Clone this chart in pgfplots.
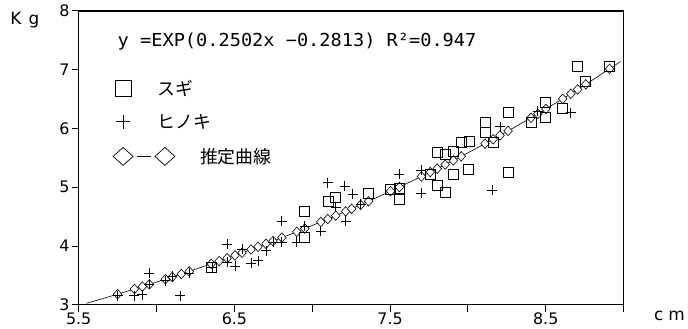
\documentclass[border=0pt]{standalone}
\usepackage{fontspec}
\setmainfont{DejaVu Sans}
\newfontfamily\jp{Noto Sans CJK JP}
\newfontfamily\mono{DejaVu Sans Mono}
\usepackage{graphicx}
\usepackage{pgfplots}
\pgfplotsset{compat=1.18}

\pgfplotstableread{
x y
5.550 3.026
5.750 3.181
5.858 3.269
5.909 3.311
5.954 3.348
6.057 3.435
6.101 3.474
6.159 3.524
6.210 3.570
6.351 3.698
6.402 3.745
6.453 3.793
6.504 3.842
6.549 3.886
6.607 3.942
6.652 3.987
6.703 4.038
6.748 4.084
6.805 4.143
6.901 4.243
6.952 4.298
7.055 4.410
7.100 4.460
7.151 4.517
7.215 4.590
7.253 4.634
7.311 4.702
7.362 4.762
7.503 4.933
7.560 5.004
7.701 5.184
7.758 5.258
7.803 5.318
7.854 5.386
7.906 5.456
7.957 5.526
8.110 5.742
8.162 5.817
8.206 5.882
8.258 5.959
8.405 6.182
8.449 6.250
8.501 6.332
8.609 6.506
8.661 6.591
8.705 6.664
8.757 6.751
8.910 7.015
8.980 7.139
}\curve

\pgfplotstableread{
x y
5.750 3.181
5.858 3.269
5.909 3.311
5.954 3.348
6.057 3.435
6.101 3.474
6.159 3.524
6.210 3.570
6.351 3.698
6.402 3.745
6.453 3.793
6.504 3.842
6.549 3.886
6.607 3.942
6.652 3.987
6.703 4.038
6.748 4.084
6.805 4.143
6.901 4.243
6.952 4.298
7.055 4.410
7.100 4.460
7.151 4.517
7.215 4.590
7.253 4.634
7.311 4.702
7.362 4.762
7.503 4.933
7.560 5.004
7.701 5.184
7.758 5.258
7.803 5.318
7.854 5.386
7.906 5.456
7.957 5.526
8.110 5.742
8.162 5.817
8.206 5.882
8.258 5.959
8.405 6.182
8.449 6.250
8.501 6.332
8.609 6.506
8.661 6.591
8.705 6.664
8.757 6.751
8.910 7.015
}\diamonds

\pgfplotstableread{
x y
6.351 3.644
6.952 4.593
6.952 4.153
7.106 4.763
7.151 4.831
7.360 4.900
7.503 4.966
7.560 4.980
7.560 4.800
7.758 5.220
7.803 5.030
7.854 4.915
7.906 5.220
7.803 5.593
7.854 5.560
7.906 5.610
7.957 5.760
8.008 5.780
8.003 5.310
8.258 5.254
8.110 6.100
8.110 5.930
8.161 5.760
8.258 6.270
8.410 6.100
8.500 6.440
8.500 6.190
8.609 6.340
8.705 7.050
8.757 6.800
8.910 7.050
}\sugi

\pgfplotstableread{
x y
5.750 3.153
5.858 3.153
5.909 3.170
5.954 3.540
5.954 3.356
6.057 3.410
6.101 3.490
6.153 3.153
6.210 3.540
6.357 3.630
6.453 4.030
6.453 3.730
6.504 3.660
6.549 3.950
6.607 3.710
6.652 3.750
6.703 3.920
6.748 4.070
6.805 4.420
6.805 4.070
6.901 4.070
6.952 4.340
7.055 4.250
7.100 5.080
7.208 5.020
7.259 4.880
7.215 4.420
7.151 4.660
7.311 4.710
7.560 5.220
7.701 5.290
7.701 4.900
8.155 4.950
8.206 6.030
8.449 6.290
8.661 6.270
}\hinoki

\begin{document}
\begin{tikzpicture}
\begin{axis}[
  anchor=south west,
  scale only axis, width=547bp, height=295bp,
  xmin=5.5, xmax=9, ymin=3, ymax=8,
  axis line style={line width=1.3bp, black},
  tick align=outside, tick pos=left,
  major tick length=7bp,
  tick style={draw=black, line width=1bp},
  xtick={5.5,6,6.5,7,7.5,8,8.5,9},
  xticklabels={5.5,,6.5,,7.5,,8.5,},
  ytick={3,4,5,6,7,8},
  yticklabels={3,4,5,6,7,8},
  ticklabel style={font=\fontsize{16}{16}\selectfont},
  xticklabel style={inner sep=1bp},
  yticklabel style={inner sep=2bp},
  xlabel={c\hspace{5bp}m},
  ylabel={K\hspace{7bp}g},
  every axis x label/.style={at={(rel axis cs:1,0)}, anchor=base west, xshift=27bp, yshift=-16bp, font=\fontsize{17}{17}\selectfont},
  every axis y label/.style={at={(rel axis cs:0,1)}, anchor=base west, xshift=-72bp, yshift=-14bp, font=\fontsize{17}{17}\selectfont},
  legend style={draw=none, fill=none, at={(rel axis cs:0,1)}, anchor=north west,
    xshift=34bp, yshift=-69bp, inner sep=0pt, row sep=17.5bp,
    font=\jp\fontsize{18}{18}\selectfont,
    nodes={inner sep=0pt},
    /tikz/every odd column/.append style={column sep=24bp}},
  legend cell align=left,
]
\addplot[no marks, black, line width=0.6bp, forget plot] table {\curve};
\addplot[only marks, black, mark=diamond*, mark size=4.8bp,
  mark options={fill=white, draw=black, line width=0.6bp, xscale=1.2}, forget plot] table {\diamonds};
\addplot[only marks, black, mark=square, mark size=5bp,
  mark options={line width=0.8bp}, forget plot] table {\sugi};
\addplot[only marks, black, mark=+, mark size=5bp,
  mark options={line width=0.8bp}, forget plot] table {\hinoki};

\addlegendimage{legend image code/.code={
  \draw[black, line width=0.7bp] (-8bp,-8bp) rectangle (8bp,8bp);}}
\addlegendentry{スギ}
\addlegendimage{legend image code/.code={
  \draw[black, line width=0.7bp] (-7bp,0bp) -- (7bp,0bp) (0bp,-7bp) -- (0bp,7bp);}}
\addlegendentry{ヒノキ}
\addlegendimage{legend image code/.code={
  \draw[black, line width=0.7bp] (-10bp,0bp) -- (0bp,9bp) -- (10bp,0bp) -- (0bp,-9bp) -- cycle;
  \draw[black, line width=0.9bp, overlay] (14bp,0bp) -- (28bp,0bp);
  \draw[black, line width=0.7bp, overlay] (32bp,0bp) -- (42bp,9bp) -- (52bp,0bp) -- (42bp,-9bp) -- cycle;}}
\addlegendentry{\hspace*{43bp}推定曲線}

\node[anchor=base west, inner sep=0pt] at (rel axis cs:0,1) [xshift=39bp, yshift=-36bp]
  {\resizebox{360bp}{\height}{\mono\fontsize{18}{18}\selectfont y =EXP(0.2502x −0.2813)  R²=0.947}};
\end{axis}
\path (-79bp,-24bp) rectangle (609bp,306bp);
\end{tikzpicture}
\end{document}
